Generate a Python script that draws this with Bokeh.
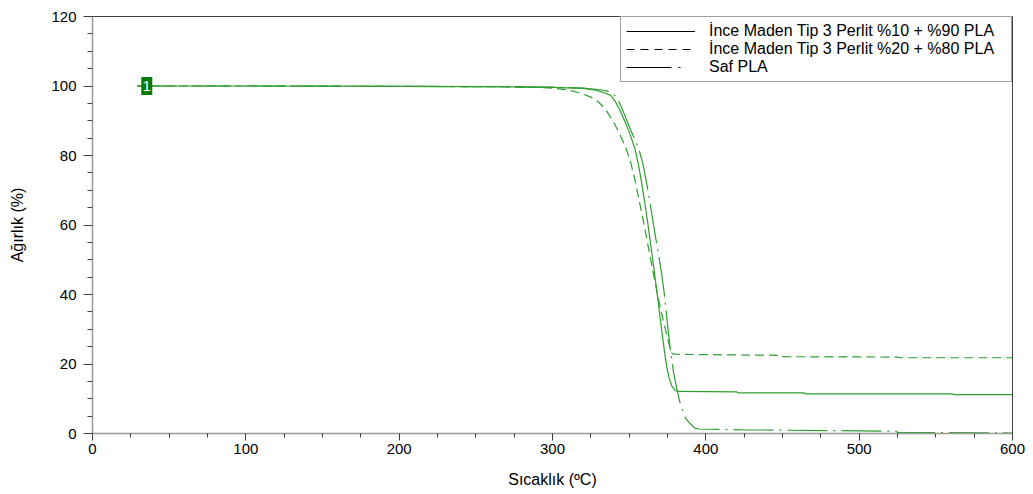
from bokeh.plotting import figure
from bokeh.models import Range1d, FixedTicker, Legend, LegendItem
from bokeh.core.properties import value
from bokeh.embed import file_html
from bokeh.resources import INLINE

# ---- data ----
series_names = ["İnce Maden Tip 3 Perlit %10 + %90 PLA",
                "İnce Maden Tip 3 Perlit %20 + %80 PLA",
                "Saf PLA"]

t_p10 = [29, 100, 200, 260, 300, 320, 328, 334, 338, 341, 344, 347, 350, 352, 354, 356, 358, 360,
         362, 364, 366, 368, 370, 372, 374, 376, 378, 380, 382, 420, 421, 464, 465, 561, 562, 600]
w_p10 = [100, 100, 99.9, 99.8, 99.6, 99.3, 98.8, 98.0, 97.3, 95.5, 93.0, 90.0, 86.8, 84.2, 81.5, 77.5, 72.5, 67.0,
         61.0, 54.5, 48.0, 41.0, 34.0, 27.0, 20.5, 16.0, 13.5, 12.4, 12.1, 12.0, 11.7, 11.7, 11.4, 11.4, 11.2, 11.2]

t_p20 = [29, 100, 200, 260, 290, 300, 310, 318, 325, 330, 335, 340, 344, 348, 351, 354, 357, 360,
         363, 366, 369, 372, 375, 377, 378, 380, 420, 449, 450, 525, 526, 600]
w_p20 = [100, 100, 99.9, 99.8, 99.6, 99.4, 98.9, 98.0, 96.8, 95.4, 93.0, 89.5, 86.0, 82.0, 78.0, 72.5, 66.0, 59.5,
         52.5, 45.5, 39.0, 33.0, 27.5, 24.0, 23.0, 22.8, 22.6, 22.5, 22.1, 22.0, 21.8, 21.8]

t_pla = [29, 100, 200, 260, 300, 320, 330, 336, 340, 343, 346, 349, 352, 355, 357, 359, 361, 363, 365,
         367, 369, 371, 373, 375, 377, 379, 381, 383, 385, 387, 389, 391, 393, 396, 423, 524, 525, 600]
w_pla = [100, 100, 99.9, 99.8, 99.7, 99.4, 99.0, 98.5, 97.5, 95.8, 92.8, 89.5, 86.3, 83.3, 80.8, 77.5, 73.0, 68.0, 62.5,
         57.0, 52.0, 46.5, 40.0, 31.5, 23.5, 17.5, 13.0, 9.2, 6.3, 4.3, 3.2, 2.3, 1.5, 1.3, 1.06, 0.66, 0.3, 0.15]

x_ticks = [0, 100, 200, 300, 400, 500, 600]
y_ticks = [0, 20, 40, 60, 80, 100, 120]
marker_text = "1"
marker_t = 35.4
marker_w = 100

GREEN = "#2e9e2e"
FONT = "Liberation Sans"
NAN = float("nan")

p = figure(width=1033, height=494, output_backend="svg", toolbar_location=None,
           x_range=Range1d(0, 600), y_range=Range1d(0, 120),
           min_border_left=92, min_border_right=21, min_border_top=16, min_border_bottom=61)
p.xgrid.visible = False
p.ygrid.visible = False
p.outline_line_color = "#404040"
p.outline_line_width = 1
p.background_fill_color = "white"
p.border_fill_color = "white"

for ax, ticks, step in ((p.xaxis[0], x_ticks, 25), (p.yaxis[0], y_ticks, 5)):
    ax.ticker = FixedTicker(ticks=ticks, minor_ticks=list(range(ticks[0], ticks[-1] + 1, step)))
    ax.axis_line_color = "#999999"
    ax.axis_line_width = 1.5
    ax.major_tick_line_color = "#404040"
    ax.minor_tick_line_color = "#404040"
    ax.major_tick_in = 0
    ax.minor_tick_in = 0
    ax.major_label_text_font = FONT
    ax.major_label_text_font_size = "15px"
    ax.major_label_text_color = "black"
    ax.axis_label_text_font = FONT
    ax.axis_label_text_font_size = "16px"
    ax.axis_label_text_font_style = "normal"
    ax.axis_label_text_color = "black"

p.xaxis.major_tick_out = 7
p.xaxis.minor_tick_out = 4
p.yaxis.major_tick_out = 9
p.yaxis.minor_tick_out = 5
p.xaxis.major_label_standoff = 3
p.yaxis.major_label_standoff = 7
p.xaxis.axis_label = "Sıcaklık (ºC)"
p.yaxis.axis_label = "Ağırlık (%)"
p.xaxis.axis_label_standoff = 14
p.yaxis.axis_label_standoff = 22

# curves
p.line(t_p10, w_p10, line_color=GREEN, line_width=1.2)
p.line(t_p20, w_p20, line_color=GREEN, line_width=1.2, line_dash="9 5")
p.line(t_pla, w_pla, line_color=GREEN, line_width=1.2, line_dash="40 6 2 6")

# marker "1"
p.rect(x=[marker_t], y=[marker_w], width=11, height=18, width_units="screen", height_units="screen",
       fill_color="#067a06", line_color=None)
p.text(x=[marker_t], y=[marker_w], text=[marker_text], text_color="white", text_font=value(FONT),
       text_font_size="15px", text_align="center", text_baseline="middle")

# legend (black samples as in the reference); proxies hold no visible points
r1 = p.line([NAN], [NAN], line_color="black", line_width=1.2)
r2 = p.line([NAN], [NAN], line_color="black", line_width=1.2, line_dash="8 6")
r3 = p.line([NAN], [NAN], line_color="black", line_width=1.2, line_dash="45 7 2 20")
legend = Legend(items=[LegendItem(label=series_names[0], renderers=[r1]),
                       LegendItem(label=series_names[1], renderers=[r2]),
                       LegendItem(label=series_names[2], renderers=[r3])],
                location="top_right", margin=0, padding=5, spacing=0,
                glyph_width=69, glyph_height=16, label_height=16, label_standoff=14,
                label_width=297,
                label_text_font=FONT, label_text_font_size="16px", label_text_color="black",
                label_text_line_height=1.0,
                border_line_color="#404040", border_line_width=1, background_fill_alpha=1)
p.add_layout(legend, "center")

open("out.html", "w").write(file_html(p, INLINE))
